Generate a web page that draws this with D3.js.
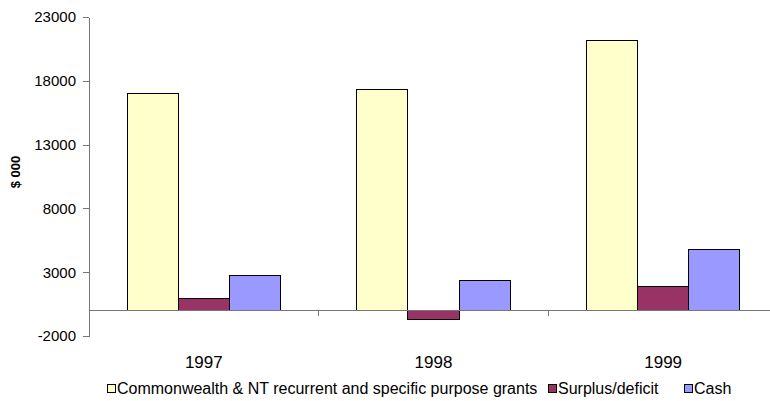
<!DOCTYPE html>
<html>
<head>
<meta charset="utf-8">
<script src="https://cdn.jsdelivr.net/npm/d3@7"></script>
<style>
  html, body { margin: 0; padding: 0; background: #fff; }
  svg { display: block; font-family: "Liberation Sans", Arial, sans-serif; }
</style>
</head>
<body>
<svg id="chart" width="770" height="401"></svg>
<script>
// Funding figures, $ 000
const years = ["1997", "1998", "1999"];
const seriesNames = [
  "Commonwealth & NT recurrent and specific purpose grants",
  "Surplus/deficit",
  "Cash"
];
const grants = [17000, 17300, 21150];
const surplus = [900, -700, 1900];
const cash = [2750, 2350, 4800];
const seriesColors = ["#FFFFCC", "#993366", "#9999FF"];
const yTicks = [-2000, 3000, 8000, 13000, 18000, 23000];

const seriesValues = [grants, surplus, cash];

const svg = d3.select("#chart");
const plotLeft = 89, plotRight = 778, plotTop = 17, plotBottom = 336;

const y = d3.scaleLinear().domain([-2000, 23000]).range([plotBottom, plotTop]);
const x0 = d3.scaleBand().domain(years).range([plotLeft, plotRight]).padding(0);
const x1 = d3.scaleBand().domain(seriesNames)
  .range([0, x0.bandwidth()]).paddingInner(0).paddingOuter(0.75);

// Bars
const rows = years.map((yr, i) => ({
  year: yr,
  bars: seriesNames.map((s, j) => ({ series: s, value: seriesValues[j][i], color: seriesColors[j] }))
}));

const groups = svg.append("g").selectAll("g").data(rows).join("g")
  .attr("transform", d => `translate(${x0(d.year)},0)`);
groups.selectAll("rect").data(d => d.bars).join("rect")
  .attr("x", d => x1(d.series))
  .attr("width", x1.bandwidth())
  .attr("y", d => y(Math.max(0, d.value)))
  .attr("height", d => Math.abs(y(d.value) - y(0)))
  .attr("fill", d => d.color)
  .attr("stroke", "#000")
  .attr("stroke-width", 1)
  .attr("shape-rendering", "crispEdges");

// Value axis (plain hyphen for negatives)
const yAxis = svg.append("g")
  .attr("transform", `translate(${plotLeft},0)`)
  .call(d3.axisLeft(y).tickValues(yTicks).tickSize(6).tickSizeOuter(0).tickPadding(7).tickFormat(d => String(d)));
yAxis.select(".domain").attr("stroke", "#777").attr("shape-rendering", "crispEdges");
yAxis.selectAll(".tick line").attr("stroke", "#777").attr("shape-rendering", "crispEdges");
yAxis.selectAll(".tick text")
  .attr("font-size", 15).attr("fill", "#000")
  .attr("font-family", "Liberation Sans, Arial, sans-serif");

// Category axis along zero
const xg = svg.append("g");
xg.append("line")
  .attr("x1", plotLeft).attr("x2", plotRight)
  .attr("y1", y(0)).attr("y2", y(0))
  .attr("stroke", "#777").attr("shape-rendering", "crispEdges");
const boundaries = years.map(d => x0(d)).concat([x0(years[years.length - 1]) + x0.bandwidth()]);
xg.selectAll("line.tk").data(boundaries).join("line")
  .attr("class", "tk")
  .attr("x1", d => d).attr("x2", d => d)
  .attr("y1", y(0)).attr("y2", y(0) + 6)
  .attr("stroke", "#777").attr("shape-rendering", "crispEdges");
xg.selectAll("text").data(years).join("text")
  .attr("x", d => x0(d) + x0.bandwidth() / 2)
  .attr("y", 368)
  .attr("text-anchor", "middle")
  .attr("font-size", 17)
  .text(d => d);

// Axis title
svg.append("text")
  .attr("transform", "translate(20,172) rotate(-90)")
  .attr("text-anchor", "middle")
  .attr("font-size", 13)
  .attr("font-weight", "bold")
  .text("$ 000");

// Legend
const legendX = [107, 548, 684];
const lg = svg.append("g").selectAll("g").data(seriesNames).join("g")
  .attr("transform", (d, i) => `translate(${legendX[i]},384)`);
lg.append("rect")
  .attr("width", 8).attr("height", 8)
  .attr("fill", (d, i) => seriesColors[i])
  .attr("stroke", "#000").attr("stroke-width", 1)
  .attr("shape-rendering", "crispEdges");
lg.append("text")
  .attr("x", 10).attr("y", 9.5)
  .attr("font-size", 16)
  .text(d => d);
</script>
</body>
</html>
